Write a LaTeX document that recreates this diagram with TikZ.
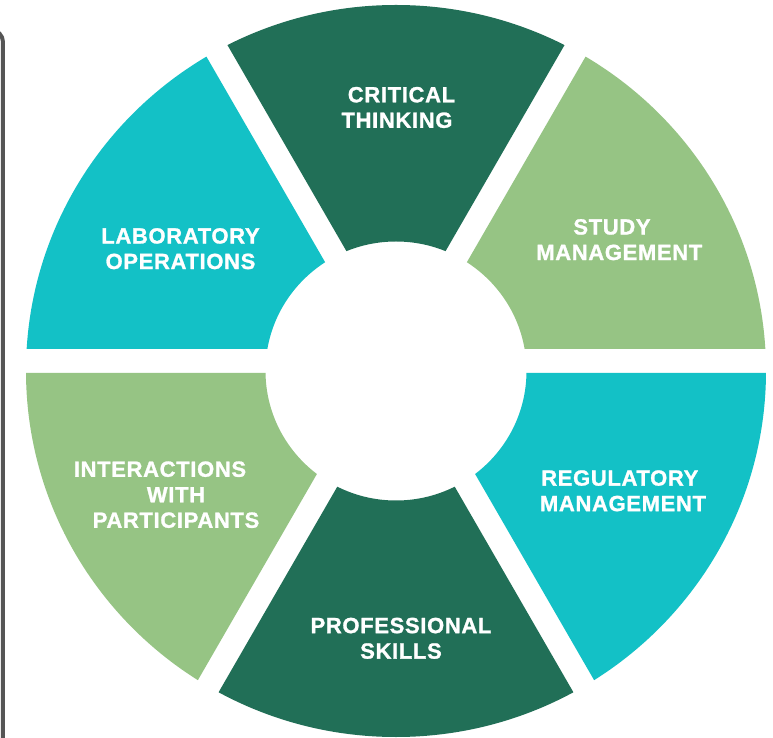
\documentclass[tikz,border=0pt]{standalone}
\usepackage{fontspec}
\setmainfont{Liberation Sans}
\newfontfamily\lblfont[LetterSpace=3,FakeBold=1.2]{Liberation Sans}
\definecolor{dkgreen}{HTML}{216F57}
\definecolor{ltgreen}{HTML}{96C484}
\definecolor{cteal}{HTML}{13C1C6}
\definecolor{bordergray}{HTML}{555555}
\tikzset{
  lbl/.style={text=white, align=center, font=\lblfont\bfseries\fontsize{22}{25.5}\selectfont, inner sep=0pt},
}
\begin{document}
\begin{tikzpicture}[x=1pt,y=1pt]
\useasboundingbox (-396,-377) rectangle (377,361);
\fill[white] (-396,-377) rectangle (377,361);
% ring sectors
\foreach \a/\col in {60/dkgreen, 0/ltgreen, -60/cteal, 240/dkgreen, 180/ltgreen, 120/cteal} {
  \begin{scope}
    \clip[shift={(\a+30:24)}] (0,0) -- (\a:700) -- (\a+60:700) -- cycle;
    \fill[\col, even odd rule] (0,-10) ellipse[x radius=370, y radius=366]
                               (0,-10) ellipse[x radius=130.5, y radius=129.5];
  \end{scope}
}
% left border
\draw[bordergray, line width=4pt] (-420,331) -- (-405,331) arc[start angle=90, end angle=0, radius=12] -- (-393,-390);
% labels
\node[lbl] (crit) at (1,253.5) {\hspace*{9pt}CRITICAL\\THINKING};
\node[lbl] (study) at (223.3,121.3) {STUDY\hspace*{14.6pt}\\MANAGEMENT};
\node[lbl] (reg) at (227,-129.8) {REGULATORY\hspace*{6.4pt}\\MANAGEMENT};
\node[lbl] (prof) at (5,-277.3) {PROFESSIONAL\\SKILLS};
\node[lbl] (inter) at (-220,-133.7) {INTERACTIONS\hspace*{32pt}\\WITH\\PARTICIPANTS};
\node[lbl] (lab) at (-215.5,112.3) {LABORATORY\\OPERATIONS};
\end{tikzpicture}
\end{document}
